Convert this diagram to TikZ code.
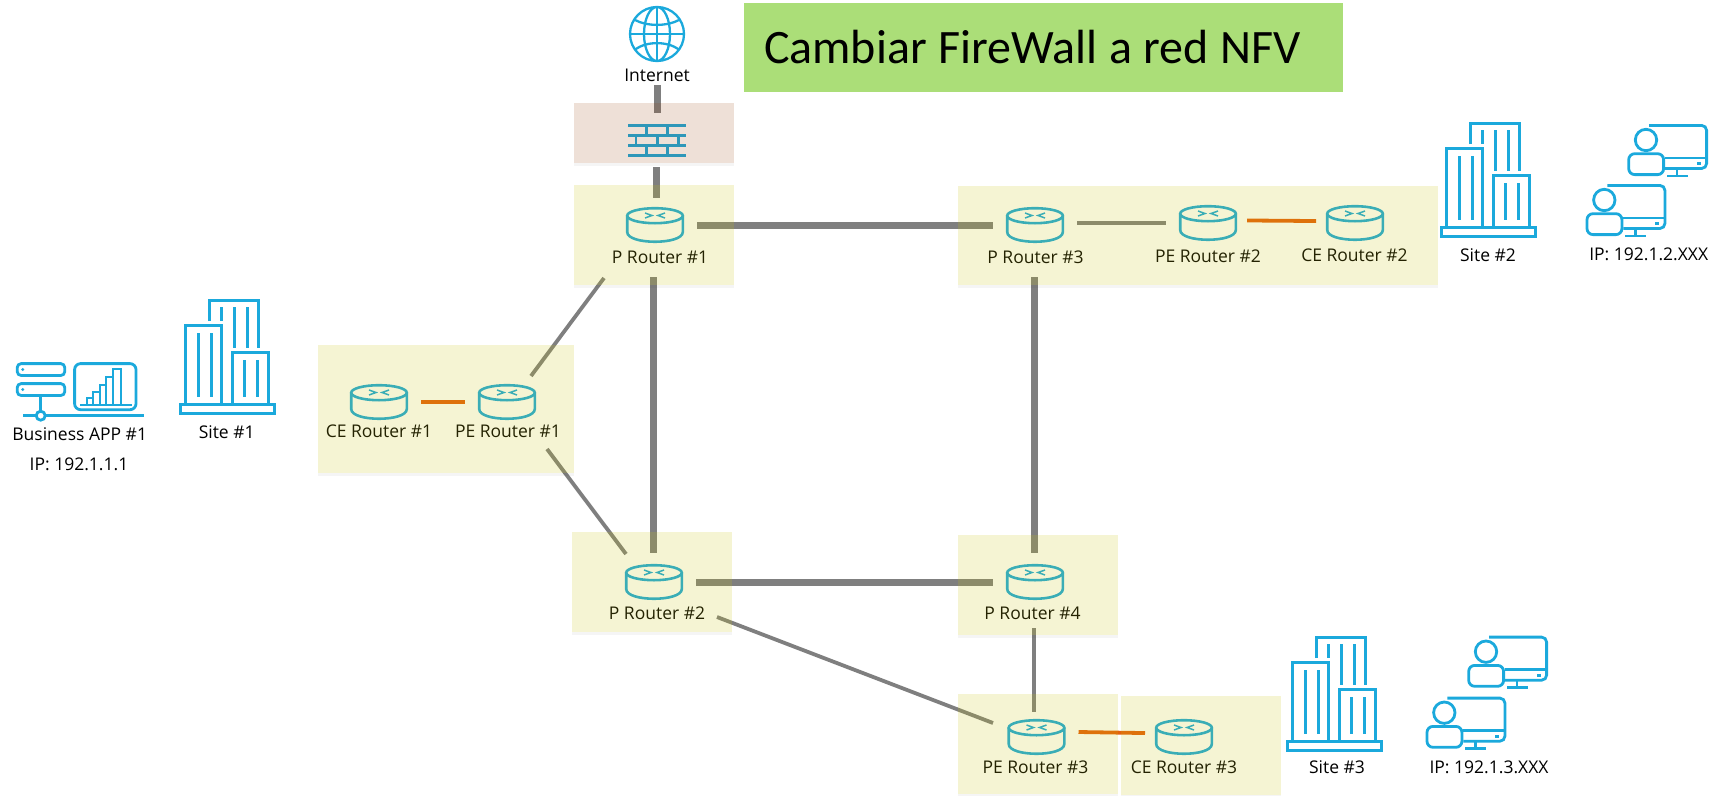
\documentclass[tikz,border=0pt]{standalone}
\usepackage{fontspec}
\setmainfont{Open Sans}
\newfontfamily\titlefont{Carlito}
\usetikzlibrary{shapes,positioning,calc}
\definecolor{azulico}{HTML}{1BA9DC}
\definecolor{enlacegris}{HTML}{7F7F7F}
\definecolor{enlacenaranja}{HTML}{E3600C}
\definecolor{amarillo}{RGB}{200,194,11}
\definecolor{rojizo}{RGB}{150,62,6}
\definecolor{verde}{HTML}{ABDE78}
\tikzstyle{zona} = [rectangle, fill=amarillo, fill opacity=0.18, inner sep=0, outer sep=0,
append after command={\pgfextra{\fill[black, fill opacity=0.04] (\tikzlastnode.south west) rectangle ([yshift=-3pt]\tikzlastnode.south east);}}]
\tikzstyle{muro} = [zona, fill=rojizo, fill opacity=0.16]
\tikzstyle{equipo} = [rectangle, minimum width=84pt, minimum height=58pt, inner sep=0, outer sep=0]
\tikzstyle{rotulo} = [text=black, font=\fontsize{17.5}{20}\selectfont, inner sep=0, outer sep=0]
\tikzstyle{icono} = [azulico, line width=2.6pt]
\tikzstyle{gruesa} = [enlacegris, line width=7pt]
\tikzstyle{fina} = [enlacegris, line width=3.8pt]
\tikzstyle{naranja} = [enlacenaranja, line width=3.8pt]
\tikzset{
  routerico/.pic={
    \draw[icono] (0,-9.3) ellipse [x radius=27.8, y radius=7.5];
    \draw[icono] (-27.8,-9.3) -- (-27.8,7) .. controls (-27.8,20) and (27.8,20) .. (27.8,7) -- (27.8,-9.3);
    \draw[icono, line width=1.5pt] (-10,-12) -- (-3,-9.5) -- (-10,-7) (10,-12) -- (3,-9.5) -- (10,-7);
  },
  edificio/.pic={
    \draw[icono, line width=3.2pt] (-46.4,-4.6) rectangle (47.4,4.6);
    \draw[icono, line width=3.2pt] (-5.7,-4.6) |- (-41.3,-83.3) -- (-41.3,-4.6);
    \draw[icono, line width=3.2pt] (5.7,-4.6) |- (41.3,-56.3) -- (41.3,-4.6);
    \draw[icono, line width=3.2pt] (-17.4,-88) |- (31.4,-108.4) -- (31.4,-61);
    \foreach \vx/\vy/\vz in {-29/-76/-12,-16/-76/-12,17/-49/-12,30/-49/-12,-6/-102/-88,7/-102/-61,20/-102/-61}
      \draw[icono, line width=3pt] (\vx,\vy) -- (\vx,\vz);
  },
  usuario/.pic={
    \draw[icono, line width=2.8pt] (0,0) circle [radius=10.7];
    \draw[icono, line width=2.8pt, rounded corners=6pt] (-17.3,13.7) rectangle (17.6,34.6);
    \draw[icono, line width=2.8pt, rounded corners=5pt] (3,-14.6) -- (60.6,-14.6) -- (60.6,28.5) -- (19,28.5);
    \draw[icono, line width=2.8pt] (19,18) -- (60.6,18);
    \draw[icono] (51,23.5) -- (55,23.5);
    \draw[icono] (31,28.5) -- (31,36) (21,36) -- (42,36);
  }
}
\begin{document}
\begin{tikzpicture}[x=1pt,y=-1pt]
\useasboundingbox (0,0) rectangle (1723,795);
\foreach \n/\x/\y/\lx/\ly/\t in {
  ce1/379/402/379/431/CE Router \#1,
  pe1/507/402/508/431/PE Router \#1,
  r1/655/225/660/257/P Router \#1,
  r2/654/582/657/613/P Router \#2,
  r3/1035/225/1035.5/257/P Router \#3,
  r4/1035/582/1032.5/613/P Router \#4,
  pe2/1208/223/1208/256/PE Router \#2,
  ce2/1355/223/1354.5/255/CE Router \#2,
  pe3/1036.5/737/1035.5/767/PE Router \#3,
  ce3/1184/737/1184/767/CE Router \#3}{
  \node (\n) at (\x,\y) [equipo] {};
  \pic at (\n) {routerico};
  \node (t\n) at (\lx,\ly) [rotulo] {\t};
}
\node (internet) at (657,75) [rotulo] {Internet};
\node (firewall) at (656.5,140) [equipo, minimum width=58pt, minimum height=30pt] {};
\draw[icono, line width=2.3pt] (657,34) circle [radius=27] (657,34) ellipse [x radius=13, y radius=27];
\draw[icono, line width=2.3pt] (657,7) -- (657,61) (630,34) -- (684,34);
\draw[icono, line width=2.3pt] (635,20) .. controls (647,26.5) and (667,26.5) .. (679,20);
\draw[icono, line width=2.3pt] (635,49.5) .. controls (647,41) and (667,41) .. (679,49.5);
\foreach \fy in {125.7,135.7,145.3,155.3}
  \draw[icono] (628.3,\fy) -- (686,\fy);
\draw[icono] (646.7,125.7) -- (646.7,135.7) (667.3,125.7) -- (667.3,135.7);
\draw[icono] (636,135.7) -- (636,145.3) (657.3,135.7) -- (657.3,145.3) (678.3,135.7) -- (678.3,145.3);
\draw[icono] (646.7,145.3) -- (646.7,155.3) (667.3,145.3) -- (667.3,155.3);
\draw[gruesa, shorten >=12pt, shorten <=4pt] (internet.south) -- (internet.south |- firewall.north);
\draw[gruesa, shorten <=12pt, shorten >=-2pt] (firewall.south) -- (firewall.south |- r1.north);
\draw[gruesa] (r1) -- (r3);
\draw[gruesa] (r2) -- (r4);
\draw[gruesa, shorten <=23pt] ([xshift=-2pt]r1.south) -- ([xshift=-1pt]r2.north);
\draw[gruesa, shorten <=23pt] ([xshift=-1pt]r3.south) -- ([xshift=-1pt]r4.north);
\draw[fina, shorten <=17pt, shorten >=-4pt] ([xshift=-1pt]r4.south) -- ([xshift=-1pt]r4.south |- pe3.north);
\draw[fina] ([shift={(24,-26)}]pe1.center) -- ([shift={(-51,53)}]r1.center);
\draw[fina] ([shift={(40,47)}]pe1.center) -- ([shift={(-28,-28)}]r2.center);
\draw[fina] ([shift={(63,35)}]r2.center) -- ([shift={(-43.5,-14)}]pe3.center);
\draw[fina] ([yshift=2pt]r3.east) -- (pe2.west);
\draw[naranja] (ce1) -- (pe1);
\draw[naranja, shorten <=-3pt, shorten >=-3pt] ([yshift=2.5pt]pe2.east) -- ([yshift=2pt]ce2.west);
\draw[naranja, shorten >=-3pt] ([yshift=5pt]pe3.east) -- ([yshift=4pt]ce3.west);
\node (zfire) at (654,133) [muro, minimum width=160pt, minimum height=60pt] {};
\foreach \n/\x/\y/\w/\h in {
  zr1/654/235/160/100,
  zce1/446/409/256/128,
  zr2/652/582/160/100,
  zr3/1038/235.5/160/99,
  zpe2/1198/235.5/160/99,
  zce2/1358/235.5/160/99,
  zr4/1038/585/160/100,
  zpe3/1038/744/160/100,
  zce3/1201/745.5/160/99}
  \node (\n) at (\x,\y) [zona, minimum width=\w pt, minimum height=\h pt] {};
\node (titulo) at (1043.5,47.5) [rectangle, fill=verde, minimum width=599pt, minimum height=89pt,
  inner sep=0, text width=559pt, align=left, font=\titlefont\fontsize{48}{50}\selectfont] {\spaceskip=11.6pt Cambiar FireWall a red NFV};
\pic at (227,409) {edificio};
\pic at (1488,232) {edificio};
\pic at (1334,746) {edificio};
\node (site1) at (226.7,432) [rotulo] {Site \#1};
\node (site2) at (1488,255) [rotulo] {Site \#2};
\node (site3) at (1337,767) [rotulo] {Site \#3};
\pic at (1646,140) {usuario};
\pic at (1604.3,200) {usuario};
\pic at (1486,651.7) {usuario};
\pic at (1444.3,712.7) {usuario};
\node (ip2) at (1648.7,254) [rotulo] {IP: 192.1.2.XXX};
\node (ip3) at (1489,767) [rotulo] {IP: 192.1.3.XXX};
\draw[icono, line width=2.8pt, rounded corners=4pt] (17.2,363.6) rectangle (64.8,375.5);
\draw[icono, line width=2.8pt, rounded corners=4pt] (17.2,383.6) rectangle (64.8,395.5);
\fill[azulico] (22.7,369.5) circle [radius=1.6] (22.7,389.5) circle [radius=1.6];
\draw[icono, line width=2.8pt] (40.7,395.5) -- (40.7,411) (23.3,415.7) -- (144,415.7);
\draw[icono, line width=2.8pt, fill=white] (40.7,415.7) circle [radius=4.5];
\draw[icono, line width=2.8pt, rounded corners=6pt] (74.6,363.6) rectangle (136,409.7);
\draw[icono] (80,405) -- (131.7,405);
\foreach \bx/\by/\bw in {87.3/397.7/6,93.3/391.7/6.5,99.8/385/6.5,106.3/377.3/7,113.3/369.3/8}
  \draw[icono, line width=2pt] (\bx,405) rectangle ++(\bw,\by-405);
\node (app) at (79.7,434) [rotulo] {Business APP \#1};
\node (ip1) at (79,464) [rotulo] {IP: 192.1.1.1};
\end{tikzpicture}
\end{document}
